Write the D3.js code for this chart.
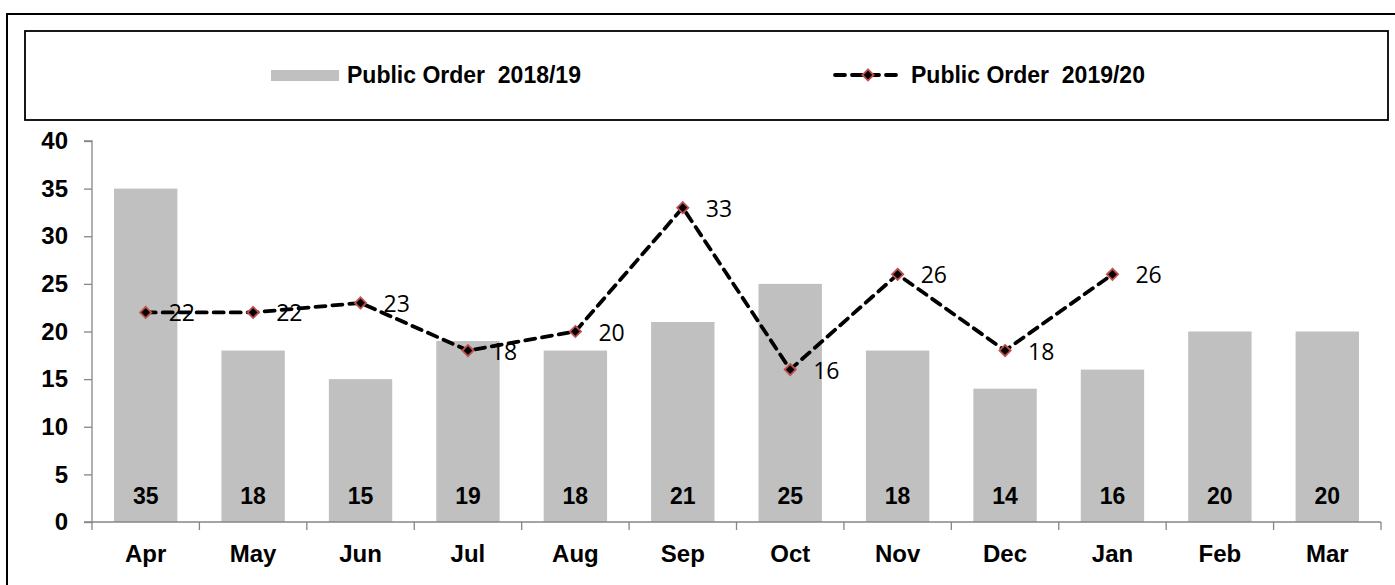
<!DOCTYPE html>
<html><head><meta charset="utf-8">
<script src="https://cdn.jsdelivr.net/npm/d3@7"></script>
<style>body{margin:0;background:#fff}svg{display:block}text{white-space:pre}</style>
</head><body>
<svg id="c" width="1395" height="585"></svg>
<script>
const months = ["Apr","May","Jun","Jul","Aug","Sep","Oct","Nov","Dec","Jan","Feb","Mar"];
const series2018 = [35,18,15,19,18,21,25,18,14,16,20,20];
const series2019 = [22,22,23,18,20,33,16,26,18,26];
const yTicks = [0,5,10,15,20,25,30,35,40];
const legendNames = ["Public Order  2018/19","Public Order  2019/20"];

const svg = d3.select("#c");
const W = 1395, H = 585;
const x0 = 92, x1 = 1381, yTop = 141, yBot = 522;
const ARIAL = "Liberation Sans, Arial, sans-serif";

// outer frame
svg.append("rect").attr("x",7).attr("y",14).attr("width",W).attr("height",H)
  .attr("fill","none").attr("stroke","#000").attr("stroke-width",2);
// legend frame
svg.append("rect").attr("x",25).attr("y",31).attr("width",1363).attr("height",89)
  .attr("fill","#fff").attr("stroke","#000").attr("stroke-width",1.8);

const x = d3.scaleBand().domain(months).range([x0,x1]).paddingInner(0.41).paddingOuter(0.205);
const y = d3.scaleLinear().domain([0,40]).range([yBot,yTop]);

// bars
svg.append("g").selectAll("rect").data(series2018).join("rect")
  .attr("x",(d,i)=>x(months[i])).attr("width",x.bandwidth())
  .attr("y",d=>y(d)).attr("height",d=>y(0)-y(d)).attr("fill","#C0C0C0");

// bar labels
svg.append("g").selectAll("text").data(series2018).join("text")
  .attr("x",(d,i)=>x(months[i])+x.bandwidth()/2).attr("y",504)
  .attr("text-anchor","middle").attr("font-family",ARIAL)
  .attr("font-weight","bold").attr("font-size",23).text(d=>d);

// y axis
const yAxis = svg.append("g").attr("transform",`translate(${x0},0)`)
  .call(d3.axisLeft(y).tickValues(yTicks).tickSize(8).tickPadding(16));
yAxis.select(".domain").attr("stroke","#868686").attr("stroke-width",1.3).attr("d",`M-8,${yTop}H0V${yBot}H-8`);
yAxis.selectAll(".tick line").attr("stroke","#868686").attr("stroke-width",1.3);
yAxis.selectAll("text").attr("font-family",ARIAL)
  .attr("font-weight","bold").attr("font-size",24).attr("fill","#000");

// x axis
const xAxis = svg.append("g").attr("transform",`translate(0,${yBot})`)
  .call(d3.axisBottom(x).tickSize(0));
xAxis.select(".domain").attr("stroke","#868686").attr("stroke-width",1.3).attr("d",`M${x0},0H${x1}`);
xAxis.selectAll("text").attr("y",40).attr("dy",0).attr("font-family",ARIAL)
  .attr("font-weight","bold").attr("font-size",24).attr("fill","#000");
const bounds = d3.range(months.length+1).map(i=>x0 + i*(x1-x0)/months.length);
xAxis.append("g").selectAll("line").data(bounds).join("line")
  .attr("x1",d=>d).attr("x2",d=>d).attr("y1",0).attr("y2",8)
  .attr("stroke","#868686").attr("stroke-width",1.3);

// line series
const cx = (d,i)=>x(months[i])+x.bandwidth()/2;
const line = d3.line().x(cx).y(d=>y(d));
svg.append("path").datum(series2019).attr("d",line).attr("fill","none")
  .attr("stroke","#000").attr("stroke-width",3.8).attr("stroke-dasharray","10,7")
  .attr("stroke-linecap","round");
const diamond = d3.symbol().type(d3.symbolDiamond2).size(80);
svg.append("g").selectAll("path").data(series2019).join("path")
  .attr("d",diamond).attr("transform",(d,i)=>`translate(${cx(d,i)},${y(d)})`)
  .attr("fill","#000").attr("stroke","#C0504D").attr("stroke-width",1.8);
svg.append("g").selectAll("text").data(series2019).join("text")
  .attr("x",(d,i)=>cx(d,i)+23).attr("y",d=>y(d)+9)
  .attr("font-family","Open Sans, Carlito, sans-serif").attr("font-size",23).attr("fill","#000")
  .text(d=>d);

// legend
svg.append("rect").attr("x",271).attr("y",70).attr("width",68).attr("height",11).attr("fill","#C0C0C0");
svg.append("text").attr("x",347).attr("y",83).attr("font-family",ARIAL)
  .attr("font-weight","bold").attr("font-size",23).text(legendNames[0]);
svg.append("line").attr("x1",835).attr("x2",901).attr("y1",75).attr("y2",75)
  .attr("stroke","#000").attr("stroke-width",3.8).attr("stroke-dasharray","10,7").attr("stroke-linecap","round");
svg.append("path").attr("d",diamond).attr("transform","translate(868,75)")
  .attr("fill","#000").attr("stroke","#C0504D").attr("stroke-width",1.8);
svg.append("text").attr("x",911).attr("y",83).attr("font-family",ARIAL)
  .attr("font-weight","bold").attr("font-size",23).text(legendNames[1]);
</script>
</body></html>
